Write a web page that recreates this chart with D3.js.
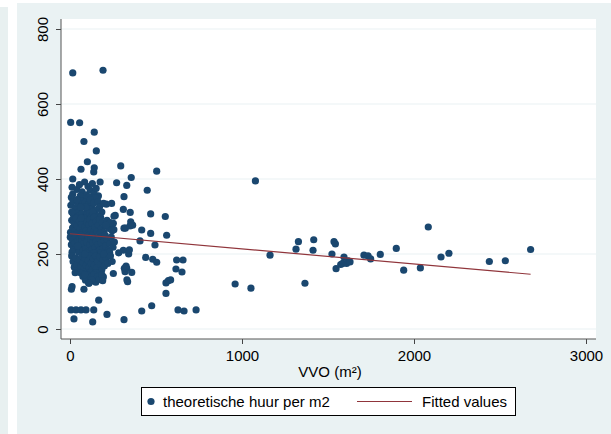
<!DOCTYPE html>
<html>
<head>
<meta charset="utf-8">
<script src="https://cdn.jsdelivr.net/npm/d3@7"></script>
<style>
 body { margin:0; background:#ffffff; }
 text { font-family:"Liberation Sans", Arial, Helvetica, sans-serif; }
</style>
</head>
<body>
<script>

 // VVO (m2) and theoretische huur per m2
 var vvo = [
   // scattered points
   16,192,4,56,141,81,153,101,64,141,138,16,295,504,356,271,330,449,314,242,
   211,310,350,469,554,263,256,246,353,364,314,322,349,417,469,562,494,407,283,341,
   345,310,440,481,504,620,657,616,651,320,330,359,316,326,558,572,585,558,335,331,
   194,252,12,8,81,167,6,35,64,93,138,23,132,215,314,417,475,628,663,733,
   960,1052,1163,1078,
   1328,1314,1417,1413,1366,1535,1543,1523,1593,1547,1574,1585,1608,1618,1628,1709,
   1733,1748,1804,1897,1940,2037,2083,2157,2203,2438,2531,2678,
   // dense group, y 350-400
   12,16,8,40,55,70,85,95,105,118,130,140,152,165,175,110,80,60,128,145,
   // y 300-350
   5,18,30,45,55,65,75,88,98,108,118,128,138,150,162,172,185,195,20,35,
   50,70,85,100,115,125,145,160,178,92,62,40,10,132,
   // y 250-300
   3,10,15,22,28,35,42,48,55,60,68,72,80,86,92,98,104,110,116,122,
   128,134,140,146,152,158,165,172,180,188,195,205,215,225,235,245,252,233,209,38,
   65,118,175,20,88,255,
   // y 200-250
   2,8,14,20,26,32,38,44,50,56,62,68,74,80,86,92,98,104,110,116,
   122,128,134,140,146,152,158,164,170,176,182,188,194,200,208,216,224,232,240,250,
   258,12,45,95,138,180,230,65,125,205,
   // y 150-200
   10,18,25,32,40,48,55,62,70,76,82,88,94,100,106,112,118,124,130,136,
   142,148,154,160,166,172,178,185,192,200,210,220,235,245,30,60,115,150,85,195,
   // y 120-150
   75,90,100,110,120,130,140,150,160,170,185,190,126,109,85
 ];

 var huur = [
   683,690,551,550,525,500,475,446,426,430,419,400,435,421,404,390,383,370,353,335,
   333,319,311,307,300,303,301,280,286,277,269,269,275,264,255,250,224,235,203,200,
   211,210,191,186,178,184,184,160,152,153,162,151,162,168,123,129,131,95,126,131,
   139,148,113,106,106,77,51,51,51,51,51,27,19,39,25,48,62,51,48,51,
   120,109,197,395,
   233,213,238,210,122,233,227,200,192,161,172,175,175,182,179,197,
   195,187,199,215,157,163,272,192,202,180,182,212,
   378,360,351,372,385,366,392,358,380,370,388,362,375,355,392,352,347,355,345,350,
   330,340,322,335,315,342,328,338,318,332,345,322,336,318,340,326,312,335,305,310,
   302,308,300,305,310,300,305,302,298,325,325,345,312,312,
   258,290,270,285,262,295,275,255,288,268,280,258,295,272,262,285,255,278,292,265,
   282,258,298,272,288,260,278,292,266,284,258,275,290,268,283,262,282,283,277,252,
   296,252,255,250,250,265,
   245,225,238,212,230,248,218,235,205,242,222,238,210,228,245,215,232,248,208,225,
   240,212,230,245,218,235,205,225,242,212,230,248,215,235,222,240,210,228,245,218,
   232,205,222,202,202,203,205,250,248,250,
   195,180,165,190,172,155,185,168,195,178,160,188,170,152,182,165,195,175,158,188,
   170,195,162,180,150,192,172,158,185,168,190,175,195,180,150,150,150,150,200,200,
   140,130,145,122,138,128,145,125,140,132,145,129,131,122,145
 ];

 // fitted values (linear fit), end points
 var fitX = [0, 2678];
 var fitY = [254, 146];

 var xTicks = [0, 1000, 2000, 3000];
 var yTicks = [0, 200, 400, 600, 800];

 var width = 611, height = 434;
 var plot = {left: 61, right: 596, top: 19, bottom: 339};

 var svg = d3.select("body").append("svg")
             .attr("width", width)
             .attr("height", height);

 // backgrounds
 svg.append("rect").attr("x", 0).attr("y", 7).attr("width", 8).attr("height", height - 7)
    .attr("fill", "#e8f0f0");
 svg.append("rect").attr("x", 17).attr("y", 3).attr("width", width - 17).attr("height", height - 3)
    .attr("fill", "#eaf2f3");
 svg.append("rect").attr("x", plot.left).attr("y", plot.top)
    .attr("width", plot.right - plot.left).attr("height", plot.bottom - plot.top)
    .attr("fill", "#ffffff");

 var x = d3.scaleLinear().domain([0, 3000]).range([70, 586]);
 var y = d3.scaleLinear().domain([0, 800]).range([329, 29]);

 // grid lines
 svg.selectAll("line.grid").data(yTicks).enter().append("line")
    .attr("class", "grid")
    .attr("x1", plot.left).attr("x2", plot.right)
    .attr("y1", function(d) { return y(d); })
    .attr("y2", function(d) { return y(d); })
    .attr("stroke", "#eaf2f3").attr("stroke-width", 1.2);

 // axes
 var yAxis = svg.append("g")
    .attr("transform", "translate(" + plot.left + ",0)")
    .call(d3.axisLeft(y).tickValues(yTicks).tickSize(5).tickFormat(""));
 yAxis.select(".domain").remove();
 yAxis.selectAll("line").attr("stroke", "#444");
 yAxis.selectAll("g.tick").append("text")
    .attr("transform", "translate(-18,0) rotate(-90)")
    .attr("text-anchor", "middle")
    .attr("dy", "0.35em")
    .attr("fill", "#000")
    .style("font-size", "15px")
    .text(function(d) { return d; });

 var xAxis = svg.append("g")
    .attr("transform", "translate(0," + plot.bottom + ")")
    .call(d3.axisBottom(x).tickValues(xTicks).tickSize(5).tickPadding(6).tickFormat(d3.format("d")));
 xAxis.select(".domain").remove();
 xAxis.selectAll("line").attr("stroke", "#444");
 xAxis.selectAll("text").attr("fill", "#000").style("font-size", "15px")
    .style("font-family", "'Liberation Sans', Arial, sans-serif");

 svg.append("line").attr("x1", plot.left).attr("x2", plot.left)
    .attr("y1", plot.top).attr("y2", plot.bottom)
    .attr("stroke", "#555").attr("stroke-width", 1);
 svg.append("line").attr("x1", plot.left).attr("x2", plot.right)
    .attr("y1", plot.bottom).attr("y2", plot.bottom)
    .attr("stroke", "#555").attr("stroke-width", 1);

 svg.append("text")
    .attr("x", 330).attr("y", 377)
    .attr("text-anchor", "middle")
    .style("font-size", "15px")
    .text("VVO (m²)");

 // points
 svg.selectAll("circle.pt").data(vvo).enter().append("circle")
    .attr("class", "pt")
    .attr("cx", function(d) { return x(d); })
    .attr("cy", function(d, i) { return y(huur[i]); })
    .attr("r", 3.6)
    .attr("fill", "#1a476f");

 // fitted line
 svg.append("path")
    .datum(fitX)
    .attr("d", d3.line()
       .x(function(d) { return x(d); })
       .y(function(d, i) { return y(fitY[i]); }))
    .attr("fill", "none")
    .attr("stroke", "#90353b")
    .attr("stroke-width", 1.2);

 // legend
 var legend = svg.append("g");
 legend.append("rect").attr("x", 141.5).attr("y", 387.5).attr("width", 374).attr("height", 28)
    .attr("fill", "#ffffff").attr("stroke", "#000").attr("stroke-width", 1);
 legend.append("circle").attr("cx", 151).attr("cy", 401.5).attr("r", 3.6).attr("fill", "#1a476f");
 legend.append("text").attr("x", 163).attr("y", 407).style("font-size", "15px")
    .text("theoretische huur per m2");
 legend.append("line").attr("x1", 357).attr("x2", 412).attr("y1", 401.5).attr("y2", 401.5)
    .attr("stroke", "#90353b").attr("stroke-width", 1.2);
 legend.append("text").attr("x", 422).attr("y", 407).style("font-size", "15px")
    .text("Fitted values");

</script>
</body>
</html>
